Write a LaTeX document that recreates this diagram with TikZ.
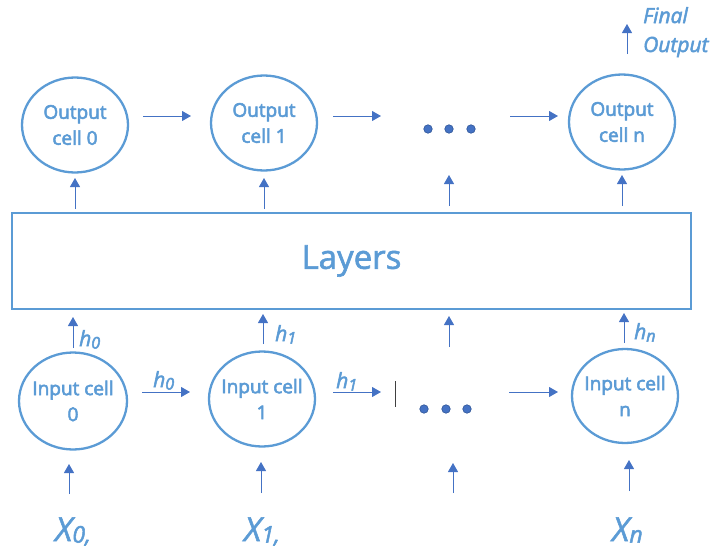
\documentclass[tikz,border=0pt]{standalone}
\usepackage{fontspec}
\setmainfont{Open Sans}
\usetikzlibrary{shapes.geometric,arrows.meta}
\definecolor{cellblue}{HTML}{5B9BD5}
\definecolor{arrblue}{HTML}{4472C4}
\definecolor{dotblue}{HTML}{2F5597}
\newcommand{\heavytext}[1]{\special{pdf:literal direct 2 Tr #1 w}}
\tikzset{
  cell/.style={ellipse, draw=cellblue, line width=2.3pt, text=cellblue, align=center,
    inner sep=-10pt, minimum width=106pt, minimum height=95pt,
    font=\fontsize{19}{26}\selectfont},
  arr/.style={draw=arrblue, line width=1pt, -{Triangle[length=9pt,width=10pt]}},
  dot/.style={circle, fill=arrblue, draw=dotblue, line width=0.6pt, inner sep=0pt, minimum size=8.5pt},
  lbl/.style={text=cellblue, inner sep=0pt, font=\fontsize{21}{24}\selectfont\itshape\heavytext{0.5}},
  xlbl/.style={text=cellblue, inner sep=0pt, font=\fontsize{33}{36}\selectfont\itshape\heavytext{0.5}},
}
\newcommand{\hsub}[2]{#1\raisebox{-0.12em}{\fontsize{16}{17}\selectfont #2}}
\newcommand{\xsub}[2]{#1\raisebox{-0.05em}{\fontsize{23}{25}\selectfont #2}}
\newcommand{\ctext}[2]{\heavytext{0.55}#1\\\heavytext{0.55}#2}
\begin{document}
\begin{tikzpicture}[x=1pt,y=-1pt]
\useasboundingbox (0,0) rectangle (716,552);
% output cells
\node[cell] (o0) at (75,125) {\ctext{Output}{cell 0}};
\node[cell] (o1) at (264,123) {\ctext{Output}{cell 1}};
\node[cell] (on) at (622,122) {\ctext{Output}{cell n}};
\node[dot] (od1) at (428,129) {};
\node[dot] (od2) at (449,129) {};
\node[dot] (od3) at (471,129) {};
% output row arrows
\coordinate (oa1s) at (143,116); \coordinate (oa1e) at (191,116);
\coordinate (oa2s) at (333,116); \coordinate (oa2e) at (381,116);
\coordinate (oa3s) at (510,116); \coordinate (oa3e) at (558,116);
\draw[arr] (oa1s) -- (oa1e);
\draw[arr] (oa2s) -- (oa2e);
\draw[arr] (oa3s) -- (oa3e);
% final output
\coordinate (fs) at (627,54); \coordinate (fe) at (627,24);
\draw[arr] (fs) -- (fe);
\node[lbl, anchor=base west] (fin) at (643,23) {Final};
\node[lbl, anchor=base west] (fout) at (643,52) {Output};
% layers
\node[draw=cellblue, line width=1.5pt, minimum width=679pt, minimum height=96pt, inner sep=0pt,
  text=cellblue, font=\fontsize{33}{36}\selectfont] (layers) at (351.5,261) {\heavytext{0.6}Layers};
% arrows layers -> output
\coordinate (u1s) at (75,209); \coordinate (u1e) at (75,178);
\coordinate (u2s) at (264,209); \coordinate (u2e) at (264,178);
\coordinate (u3s) at (449,206); \coordinate (u3e) at (449,175);
\coordinate (u4s) at (622,206); \coordinate (u4e) at (622,175);
\draw[arr] (u1s) -- (u1e);
\draw[arr] (u2s) -- (u2e);
\draw[arr] (u3s) -- (u3e);
\draw[arr] (u4s) -- (u4e);
% input cells
\node[cell, minimum width=108pt, minimum height=97pt] (i0) at (73,401) {\ctext{Input cell}{0}};
\node[cell] (i1) at (262,399) {\ctext{Input cell}{1}};
\node[cell, minimum height=94pt] (in) at (625,396) {\ctext{Input cell}{n}};
% arrows input -> layers
\coordinate (l1s) at (73,348); \coordinate (l1e) at (73,317);
\coordinate (l2s) at (263,344); \coordinate (l2e) at (263,314);
\coordinate (l3s) at (449,347); \coordinate (l3e) at (449,316);
\coordinate (l4s) at (624,343); \coordinate (l4e) at (624,313);
\draw[arr] (l1s) -- (l1e);
\draw[arr] (l2s) -- (l2e);
\draw[arr] (l3s) -- (l3e);
\draw[arr] (l4s) -- (l4e);
\node[lbl, anchor=base west] (h0u) at (79,346) {\hsub{h}{0}};
\node[lbl, anchor=base west] (h1u) at (275,341) {\hsub{h}{1}};
\node[lbl, anchor=base west] (hnu) at (634,339) {\hsub{h}{n}};
% input row arrows
\coordinate (ia1s) at (142,392); \coordinate (ia1e) at (190,392);
\coordinate (ia2s) at (333,392); \coordinate (ia2e) at (381,392);
\coordinate (ia3s) at (509,392); \coordinate (ia3e) at (558,392);
\draw[arr] (ia1s) -- (ia1e);
\draw[arr] (ia2s) -- (ia2e);
\draw[arr] (ia3s) -- (ia3e);
\node[lbl, anchor=base west] (h0r) at (153,387) {\hsub{h}{0}};
\node[lbl, anchor=base west] (h1r) at (336,388) {\hsub{h}{1}};
\coordinate (bar1) at (395,381); \coordinate (bar2) at (395,407);
\draw[black!75, line width=1pt] (bar1) -- (bar2);
\node[dot] (id1) at (424,409) {};
\node[dot] (id2) at (446,409) {};
\node[dot] (id3) at (467,409) {};
% bottom arrows
\coordinate (b1s) at (69,494); \coordinate (b1e) at (69,464);
\coordinate (b2s) at (261,493); \coordinate (b2e) at (261,462);
\coordinate (b3s) at (453,493); \coordinate (b3e) at (453,463);
\coordinate (b4s) at (629,491); \coordinate (b4e) at (629,460);
\draw[arr] (b1s) -- (b1e);
\draw[arr] (b2s) -- (b2e);
\draw[arr] (b3s) -- (b3e);
\draw[arr] (b4s) -- (b4e);
% X labels
\node[xlbl, anchor=base west] (x0) at (55,541) {\xsub{X}{0,}};
\node[xlbl, anchor=base west] (x1) at (244,541) {\xsub{X}{1,}};
\node[xlbl, anchor=base west] (xn) at (612,541) {\xsub{X}{n}};
\end{tikzpicture}
\end{document}
